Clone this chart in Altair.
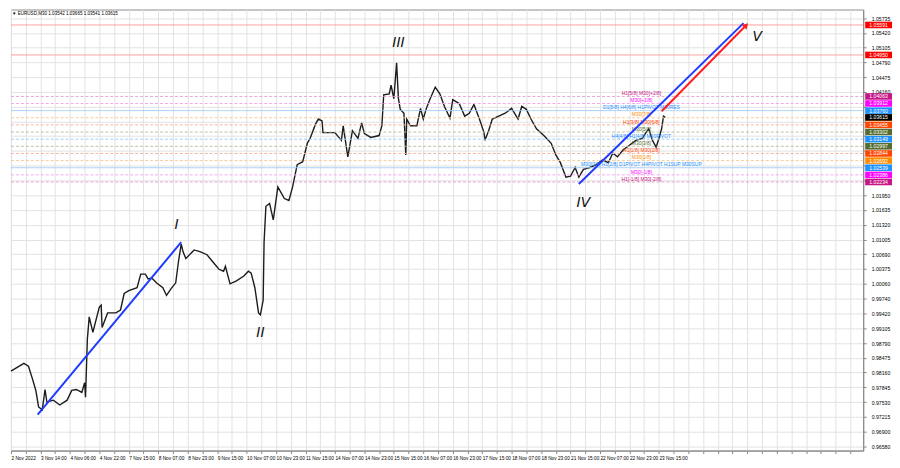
import altair as alt
import pandas as pd

# ---------------- data ----------------
bars = [0, 14, 19, 23, 27, 30, 34, 37, 39, 46, 53, 61, 66, 71, 77, 80, 81, 83, 85, 89,
        96, 98, 99, 105, 114, 119, 123, 128, 137, 141, 146, 149, 153, 158, 165, 169, 174, 179, 182, 185,
        187, 190, 199, 206, 213, 219, 226, 231, 233, 238, 245, 253, 258, 261, 265, 269, 271, 274, 275, 277,
        281, 285, 290, 297, 302, 306, 311, 317, 322, 325, 331, 334, 338, 339, 352, 359, 361, 366, 371, 377,
        381, 384, 391, 400, 403, 405, 411, 413, 416, 419, 421, 423, 427, 429, 430, 434, 441, 445, 448, 451,
        455, 461, 466, 471, 477, 480, 487, 493, 498, 503, 509, 514, 515, 519, 523, 530, 537, 544, 551, 555,
        560, 565, 571, 579, 587, 592, 597, 603, 608, 613, 617, 622, 629, 636, 643, 649, 654, 659, 665, 672,
        679, 686, 690, 693, 697, 701, 704, 707, 709, 711]
closes = [0.98192, 0.98358, 0.98296, 0.98047, 0.97778, 0.97425, 0.97363, 0.97798, 0.97529, 0.97570,
          0.97467, 0.97570, 0.97778, 0.97798, 0.97736, 0.97943, 0.97633, 0.98876, 0.99352, 0.99021,
          0.99560, 0.99601, 0.99125, 0.99435, 0.99435, 0.99497, 0.99850, 0.99912, 0.99974, 1.00264,
          1.00264, 1.00161, 1.00181, 1.00078, 0.99974, 0.99808, 0.99953, 1.00078, 1.00534, 1.00907,
          1.00741, 1.00596, 1.00782, 1.00741, 1.00679, 1.00534, 1.00368, 1.00326, 1.00430, 1.00057,
          1.00119, 1.00223, 1.00326, 1.00285, 0.99974, 0.99435, 0.99394, 0.99705, 1.00948, 1.01715,
          1.01777, 1.01425, 1.02129, 1.01880, 1.01839, 1.02129, 1.02606, 1.02668, 1.03062, 1.03165,
          1.03476, 1.03580, 1.03538, 1.03289, 1.03289, 1.03124, 1.03435, 1.02771, 1.03331, 1.03165,
          1.03497, 1.03269, 1.03186, 1.03227, 1.03435, 1.04098, 1.04118, 1.04305, 1.04015, 1.04781,
          1.04015, 1.03787, 1.03704, 1.02813, 1.03580, 1.03435, 1.03435, 1.03808, 1.03580, 1.03787,
          1.03994, 1.04263, 1.04118, 1.03849, 1.03600, 1.03994, 1.03911, 1.03642, 1.03704, 1.03890,
          1.03580, 1.03289, 1.03124, 1.03331, 1.03580, 1.03642, 1.03704, 1.03808, 1.03580, 1.03849,
          1.03787, 1.03580, 1.03372, 1.03227, 1.03062, 1.02813, 1.02647, 1.02336, 1.02357, 1.02544,
          1.02336, 1.02502, 1.02544, 1.02606, 1.02709, 1.02647, 1.02854, 1.02771, 1.02917, 1.03020,
          1.03124, 1.03165, 1.03289, 1.03372, 1.03124, 1.02979, 1.03165, 1.03372, 1.03642, 1.03615]

time_labels = ["2 Nov 2022", "3 Nov 14:00", "4 Nov 06:00", "4 Nov 22:00", "7 Nov 15:00",
               "8 Nov 07:00", "8 Nov 23:00", "9 Nov 15:00", "10 Nov 07:00", "10 Nov 23:00",
               "11 Nov 15:00", "14 Nov 07:00", "14 Nov 23:00", "15 Nov 15:00", "16 Nov 07:00",
               "16 Nov 23:00", "17 Nov 15:00", "18 Nov 07:00", "18 Nov 23:00", "21 Nov 15:00",
               "22 Nov 07:00", "22 Nov 23:00", "23 Nov 15:00"]
price_ticks = [1.05735, 1.05420, 1.05105, 1.04790, 1.04475, 1.04160, 1.03845, 1.03530, 1.03215,
               1.02900, 1.02585, 1.02270, 1.01950, 1.01635, 1.01320, 1.01005, 1.00690, 1.00375,
               1.00060, 0.99740, 0.99420, 0.99105, 0.98790, 0.98475, 0.98160, 0.97845, 0.97530,
               0.97215, 0.96900, 0.96580]

level_values = [1.05591, 1.04950, 1.04063, 1.03912, 1.03760, 1.03607, 1.03455, 1.03302,
                1.03149, 1.02997, 1.02844, 1.02692, 1.02539, 1.02386, 1.02234]
level_tag_colors = ["#ff0000", "#ff0000", "#c71585", "#ff00ff", "#1e90ff", "#ff8c00", "#ff4500",
                    "#556b2f", "#1e90ff", "#556b2f", "#ff4500", "#ff8c00", "#1e90ff", "#ff00ff", "#c71585"]
level_line_colors = ["#ff9a9a", "#ff9a9a", "#e3a6cf", "#f5a8f5", "#9fcdf7", "#f7cc9f", "#f7b5a0",
                     "#b9c4a4", "#9fcdf7", "#b9c4a4", "#f7b5a0", "#f7cc9f", "#9fcdf7", "#f5a8f5", "#e3a6cf"]
level_styles = ["solid", "solid", "dash", "dash", "solid", "dash", "dash", "dash",
                "dash", "dash", "dash", "dash", "solid", "dash", "dash"]
level_texts = ["", "", "H1[5/8] M30[+2/8]", "M30[+1/8]", "D1[5/8] H4[6/8] H1PIVOT M30RES",
               "M30[7/8]", "H1[3/8] M30[6/8]", "M30[5/8]", "H4[4/8] H1[4/8] M30PIVOT",
               "M30[3/8]", "H1[1/8] M30[2/8]", "M30[1/8]",
               "M30[0/8] H1[2/8] D1PIVOT H4PIVOT H1SUP M30SUP", "M30[-1/8]", "H1[-1/8] M30[-2/8]"]

current_price = 1.03615
header = "\u25bc EURUSD,M30  1.03542 1.03665 1.03541 1.03615"

wave_names = ["I", "II", "III", "IV", "V"]
wave_bars = [180, 271, 421, 622, 811]
wave_prices = [1.01321, 0.99000, 1.05196, 1.01777, 1.05341]

trend_ids = ["w1", "w1", "w5", "w5"]
trend_bars = [29, 185, 617, 796]
trend_prices = [0.97260, 1.00948, 1.02191, 1.05631]

target_bars = [707, 798]
target_prices = [1.03745, 1.05569]

# ---------------- chart ----------------
W, H = 858, 444
X_MAX = 926
FONT = "Liberation Sans"

xs = alt.Scale(domain=[0, X_MAX], nice=False, zero=False)
ys = alt.Scale(domain=[0.96493, 1.05921], nice=False, zero=False)

label_arr = "[" + ",".join("'" + t + "'" for t in time_labels) + "]"
x_axis = alt.Axis(values=list(range(0, X_MAX + 1, 16)),
                  labelExpr=label_arr + "[datum.value / 32] || ''",
                  labelAlign="left", labelFontSize=4.8, labelFont=FONT, labelColor="#000",
                  labelPadding=2, labelOverlap=False, labelFlush=False,
                  tickSize=3, tickColor="#888", domainColor="#888",
                  grid=True, gridColor="#e2e2e2", title=None)
y_axis = alt.Axis(orient="right", values=price_ticks,
                  labelExpr="(datum.value > 1.0222 && datum.value < 1.0410) ? '' : format(datum.value, '.5f')",
                  labelFontSize=5.2, labelFont=FONT, labelColor="#000", labelPadding=5,
                  tickSize=3, tickColor="#888", domainColor="#888",
                  grid=True, gridColor="#e2e2e2", title=None)


def X(field):
    return alt.X(field, scale=xs, axis=x_axis)


def Y(field):
    return alt.Y(field, scale=ys, axis=y_axis)


price_df = pd.DataFrame({"bar": bars, "close": closes})
lev_df = pd.DataFrame({"val": level_values, "tag": level_tag_colors, "lc": level_line_colors,
                       "style": level_styles, "txt": level_texts})
wave_df = pd.DataFrame({"name": wave_names, "bar": wave_bars, "p": wave_prices})
trend_df = pd.DataFrame({"id": trend_ids, "bar": trend_bars, "p": trend_prices})
target_df = pd.DataFrame({"bar": target_bars, "p": target_prices})
cur_df = pd.DataFrame({"val": [current_price]})
head_df = pd.DataFrame({"t": [header]})

price = alt.Chart(price_df).mark_line(color="#1c1c1c", strokeWidth=1.4).encode(
    x=X("bar:Q"), y=Y("close:Q"),
)

level_rules = alt.Chart(lev_df).mark_rule(strokeWidth=1).encode(
    y=Y("val:Q"),
    color=alt.Color("lc:N", scale=None),
    strokeDash=alt.StrokeDash("style:N", scale=alt.Scale(domain=["solid", "dash"],
                                                         range=[[1, 0], [3, 2]]), legend=None),
)

level_labels = alt.Chart(lev_df).mark_text(
    align="center", baseline="bottom", dy=-0.3, fontSize=5, font=FONT
).encode(
    x=alt.datum(685, scale=xs, axis=x_axis),
    y=Y("val:Q"),
    text="txt:N",
    color=alt.Color("tag:N", scale=None),
)

tag_rects = alt.Chart(lev_df).transform_calculate(
    lo="datum.val - 0.00070", hi="datum.val + 0.00070"
).mark_rect().encode(
    x=alt.value(W + 2), x2=alt.value(W + 29),
    y=Y("lo:Q"), y2="hi:Q",
    color=alt.Color("tag:N", scale=None),
)
tag_texts = alt.Chart(lev_df).mark_text(fontSize=5.2, font=FONT, color="white", baseline="middle").encode(
    x=alt.value(W + 15.5),
    y=Y("val:Q"),
    text=alt.Text("val:Q", format=".5f"),
)
cur_rect = alt.Chart(cur_df).transform_calculate(
    lo="datum.val - 0.00070", hi="datum.val + 0.00070"
).mark_rect(color="#000").encode(
    x=alt.value(W + 2), x2=alt.value(W + 29),
    y=Y("lo:Q"), y2="hi:Q",
)
cur_text = alt.Chart(cur_df).mark_text(fontSize=5.2, font=FONT, color="white", baseline="middle").encode(
    x=alt.value(W + 15.5),
    y=Y("val:Q"),
    text=alt.Text("val:Q", format=".5f"),
)

trend_lines = alt.Chart(trend_df).mark_line(color="#1f3bff", strokeWidth=2).encode(
    x=X("bar:Q"), y=Y("p:Q"), detail="id:N",
)
target_line = alt.Chart(target_df).mark_line(color="#ff1f1f", strokeWidth=2).encode(
    x=X("bar:Q"), y=Y("p:Q"),
)
target_head = alt.Chart(target_df).transform_filter(
    "datum.bar == 798"
).mark_point(shape="triangle", filled=True, size=45, angle=44, color="#ff1f1f", opacity=1).encode(
    x=X("bar:Q"), y=Y("p:Q"),
)

wave_labels = alt.Chart(wave_df).mark_text(
    fontSize=14, font="DejaVu Sans", fontStyle="italic", color="#111"
).encode(
    x=X("bar:Q"), y=Y("p:Q"), text="name:N",
)

head = alt.Chart(head_df).mark_text(align="left", baseline="top", fontSize=4.6, font=FONT,
                                    color="#000").encode(
    x=alt.value(1), y=alt.value(2), text="t:N"
)

chart = alt.layer(
    price, level_rules, level_labels, trend_lines, target_line, target_head,
    wave_labels, tag_rects, tag_texts, cur_rect, cur_text, head,
).properties(width=W, height=H, padding=0).configure_view(
    stroke="#8c8c8c", strokeWidth=1
)

chart.save("out.html", embed_options={"renderer": "svg", "actions": False})
